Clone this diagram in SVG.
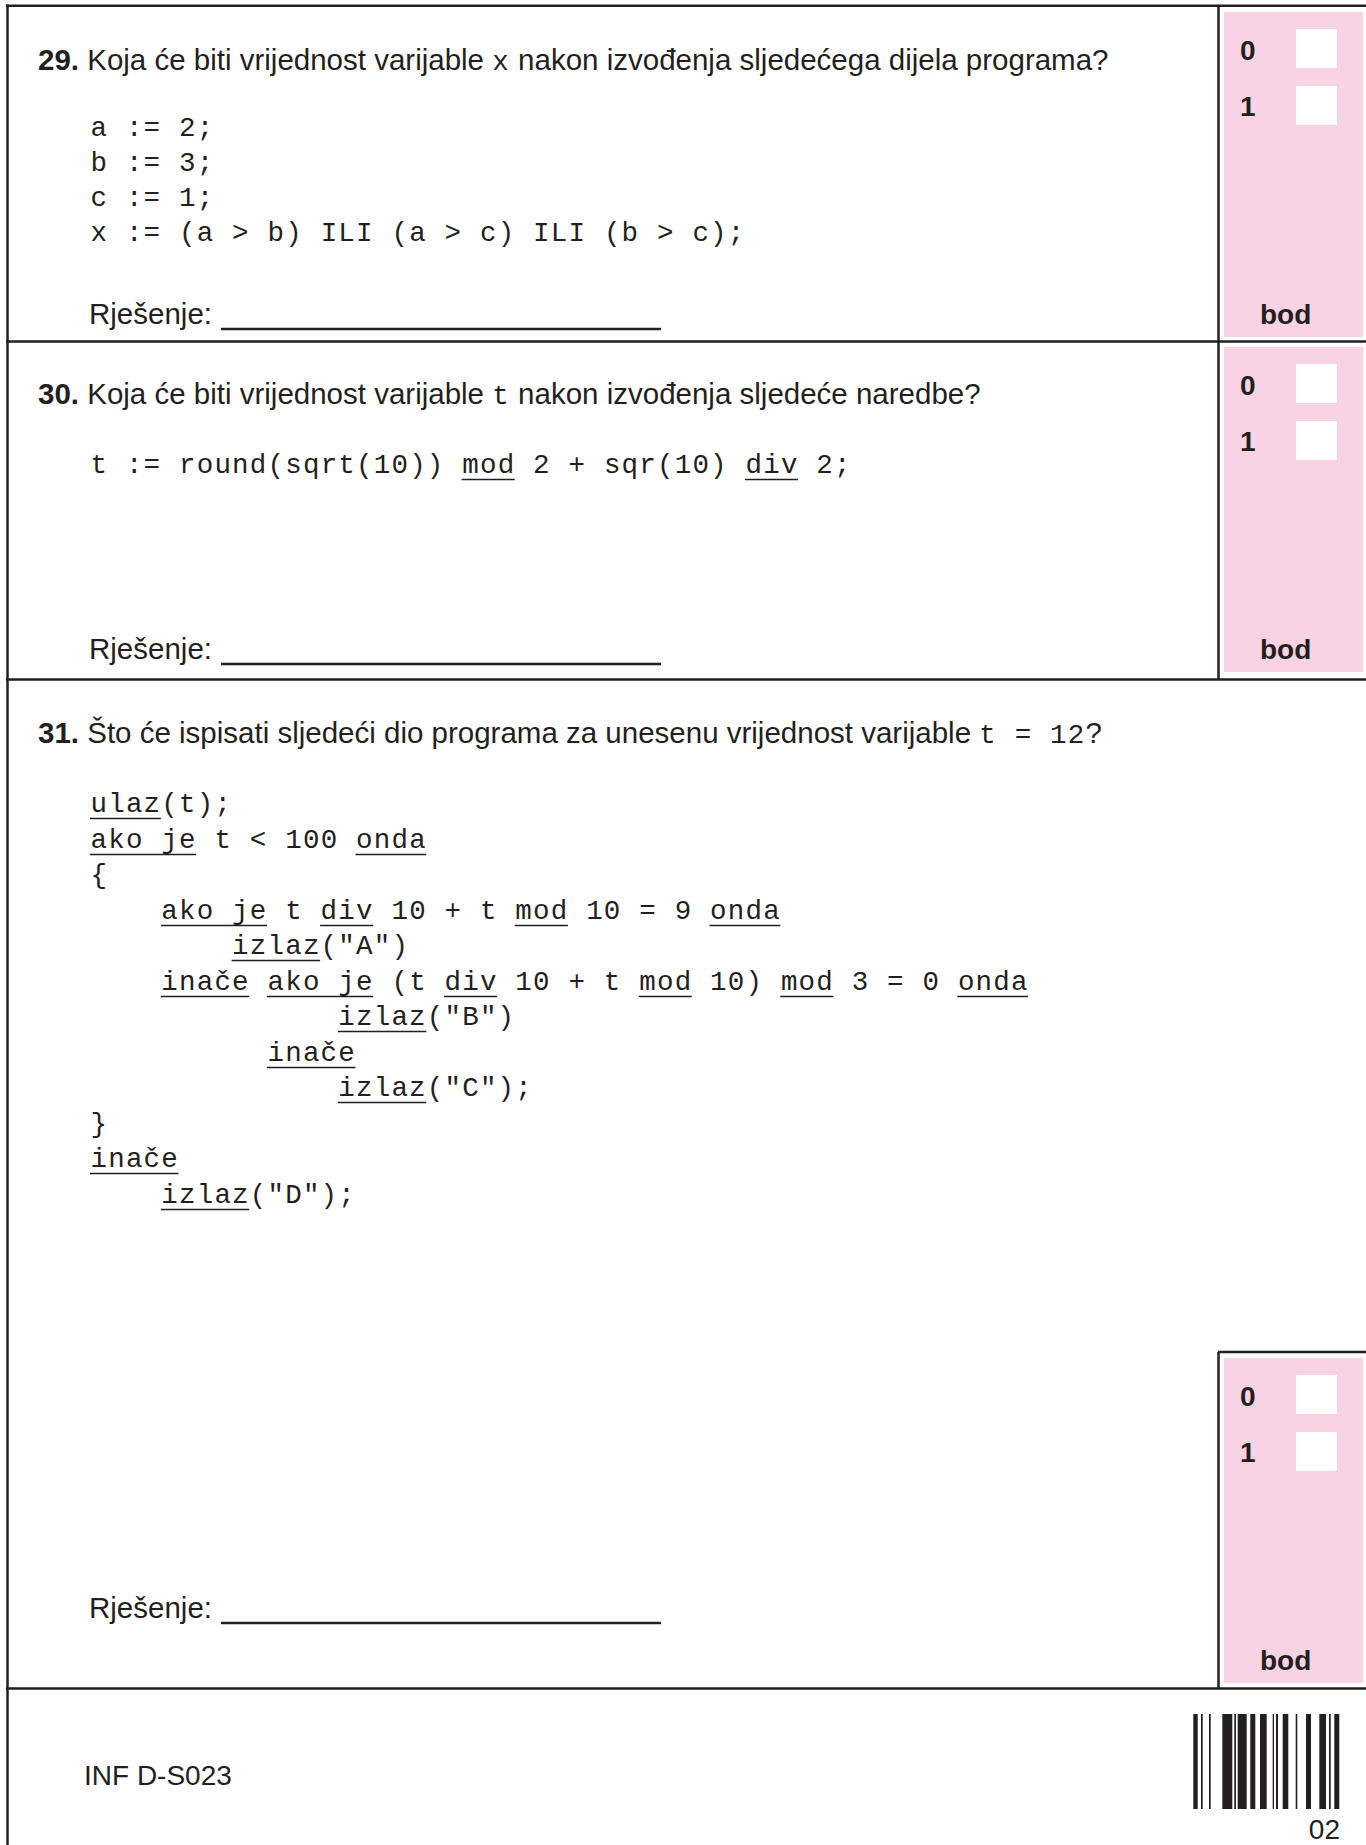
<svg xmlns="http://www.w3.org/2000/svg" width="1366" height="1845" viewBox="0 0 1366 1845">
  <style>
    .frame { stroke: #231f20; stroke-width: 2.5; fill: none; }
    .ul { stroke: #231f20; stroke-width: 1.5; fill: none; }
    .body { font-family: "Liberation Sans", Arial, sans-serif; font-size: 29.5px; fill: #231f20; }
    .num { font-weight: bold; }
    .mono { font-family: "Liberation Mono", "Courier New", monospace; font-size: 27.5px; letter-spacing: 1.2px; fill: #231f20; }
    .score { fill: #f8d3e3; }
    .cell { fill: #ffffff; }
    .lbl { font-family: "Liberation Sans", Arial, sans-serif; font-size: 28px; font-weight: bold; fill: #231f20; }
    .foot { font-family: "Liberation Sans", Arial, sans-serif; font-size: 28px; fill: #231f20; }
    .bar { fill: #231f20; }
  </style>
  <defs>
    <!-- scoring panel: pink strip with 0/1 tick boxes and the "bod" caption -->
    <g id="scorePanel">
      <rect class="score" x="1224" y="0" width="139" height="325"/>
      <text class="lbl" x="1240" y="48">0</text>
      <rect class="cell" x="1296" y="17" width="41" height="39"/>
      <text class="lbl" x="1240" y="104">1</text>
      <rect class="cell" x="1296" y="74" width="41" height="39"/>
      <text class="lbl" x="1260" y="312">bod</text>
    </g>
  </defs>

  <rect x="0" y="0" width="1366" height="1845" fill="#ffffff"/>

  <!-- page frame and row separators -->
  <g id="frame">
    <line class="frame" x1="6" y1="5.7" x2="1366" y2="5.7"/>
    <line class="frame" x1="7.5" y1="4.5" x2="7.5" y2="1845"/>
    <line class="frame" x1="6" y1="341.5" x2="1366" y2="341.5"/>
    <line class="frame" x1="6" y1="679.5" x2="1366" y2="679.5"/>
    <line class="frame" x1="1218.5" y1="5" x2="1218.5" y2="679.5"/>
    <line class="frame" x1="1218" y1="1352" x2="1366" y2="1352"/>
    <line class="frame" x1="1218.5" y1="1352" x2="1218.5" y2="1688.5"/>
    <line class="frame" x1="6" y1="1688.5" x2="1366" y2="1688.5"/>
  </g>

  <!-- question 29 -->
  <g id="q29">
    <text class="body" x="38" y="70"><tspan class="num">29.</tspan> Koja će biti vrijednost varijable <tspan class="mono">x</tspan> nakon izvođenja sljedećega dijela programa?</text>
    <text class="mono" x="90.5" y="136">a := 2;</text>
    <text class="mono" x="90.5" y="171">b := 3;</text>
    <text class="mono" x="90.5" y="206">c := 1;</text>
    <text class="mono" x="90.5" y="241">x := (a &gt; b) ILI (a &gt; c) ILI (b &gt; c);</text>
    <text class="body" x="89" y="324">Rješenje:</text>
    <line class="frame" x1="221" y1="329" x2="661" y2="329" stroke-width="2"/>
  </g>
  <g id="q29-score">
    <use href="#scorePanel" y="12"/>
  </g>

  <!-- question 30 -->
  <g id="q30">
    <text class="body" x="38" y="404"><tspan class="num">30.</tspan> Koja će biti vrijednost varijable <tspan class="mono">t</tspan> nakon izvođenja sljedeće naredbe?</text>
    <text class="mono" x="90.5" y="473">t := round(sqrt(10)) mod 2 + sqr(10) div 2;</text>
    <path class="ul" d="M461.7 479.5H514.8M744.9 479.5H798"/>
    <text class="body" x="89" y="659">Rješenje:</text>
    <line class="frame" x1="221" y1="664" x2="661" y2="664" stroke-width="2"/>
  </g>
  <g id="q30-score">
    <use href="#scorePanel" y="347"/>
  </g>

  <!-- question 31 -->
  <g id="q31">
    <text class="body" x="38" y="743"><tspan class="num">31.</tspan> Što će ispisati sljedeći dio programa za unesenu vrijednost varijable <tspan class="mono">t = 12</tspan>?</text>
    <g class="code">
      <text class="mono" x="90.5" y="812">ulaz(t);</text>
      <text class="mono" x="90.5" y="848">ako je t &lt; 100 onda</text>
      <text class="mono" x="90.5" y="883">{</text>
      <text class="mono" x="161.3" y="919">ako je t div 10 + t mod 10 = 9 onda</text>
      <text class="mono" x="232.1" y="954">izlaz("A")</text>
      <text class="mono" x="161.3" y="990">inače ako je (t div 10 + t mod 10) mod 3 = 0 onda</text>
      <text class="mono" x="338.3" y="1025">izlaz("B")</text>
      <text class="mono" x="267.5" y="1061">inače</text>
      <text class="mono" x="338.3" y="1096">izlaz("C");</text>
      <text class="mono" x="90.5" y="1132">}</text>
      <text class="mono" x="90.5" y="1167">inače</text>
      <text class="mono" x="161.3" y="1203">izlaz("D");</text>
    </g>
    <!-- keyword underlines -->
    <path class="ul" d="M90 818.5H160.8
      M90 854.5H196.2M355.5 854.5H426.3
      M160.8 925.5H267M320.1 925.5H373.2M514.8 925.5H567.9M709.5 925.5H780.3
      M231.6 960.5H320.1
      M160.8 996.5H249.3M267 996.5H373.2M444 996.5H497.1M638.7 996.5H691.8M780.3 996.5H833.4M957.3 996.5H1028.1
      M337.8 1031.5H426.3
      M267 1067.5H355.5
      M337.8 1102.5H426.3
      M90 1173.5H178.5
      M160.8 1209.5H249.3"/>
    <text class="body" x="89" y="1618">Rješenje:</text>
    <line class="frame" x1="221" y1="1623" x2="661" y2="1623" stroke-width="2"/>
  </g>
  <g id="q31-score">
    <use href="#scorePanel" y="1358"/>
  </g>

  <!-- footer: sheet code and barcode -->
  <g id="footer">
    <text class="foot" x="84" y="1785">INF D-S023</text>
    <g id="barcode">
      <rect class="bar" x="1193.3" y="1714" width="4.4" height="95"/>
      <rect class="bar" x="1201" y="1714" width="1.7" height="95"/>
      <rect class="bar" x="1209" y="1714" width="1.7" height="95"/>
      <rect class="bar" x="1222.3" y="1714" width="10" height="95"/>
      <rect class="bar" x="1234.3" y="1714" width="1.7" height="95"/>
      <rect class="bar" x="1237.7" y="1714" width="9" height="95"/>
      <rect class="bar" x="1250.3" y="1714" width="5" height="95"/>
      <rect class="bar" x="1260" y="1714" width="6.7" height="95"/>
      <rect class="bar" x="1272.7" y="1714" width="1.3" height="95"/>
      <rect class="bar" x="1276" y="1714" width="2" height="95"/>
      <rect class="bar" x="1282.7" y="1714" width="5.6" height="95"/>
      <rect class="bar" x="1295.7" y="1714" width="1.6" height="95"/>
      <rect class="bar" x="1306" y="1714" width="5" height="95"/>
      <rect class="bar" x="1319.3" y="1714" width="6.7" height="95"/>
      <rect class="bar" x="1329" y="1714" width="1.7" height="95"/>
      <rect class="bar" x="1334.3" y="1714" width="5" height="95"/>
      <text class="foot" x="1340" y="1839" text-anchor="end">02</text>
    </g>
  </g>
</svg>
